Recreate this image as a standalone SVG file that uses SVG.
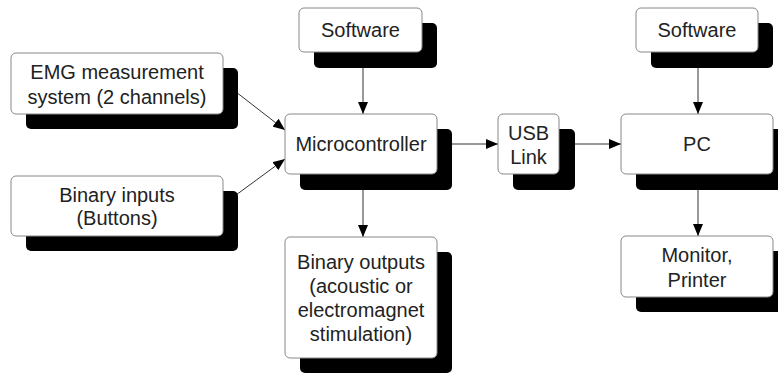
<svg xmlns="http://www.w3.org/2000/svg" width="778" height="374" viewBox="0 0 778 374">
<defs>
<style>
.box{fill:#fff;stroke:#888;stroke-width:1}
.sh{fill:#000}
.t{font-family:"Liberation Sans",Arial,sans-serif;font-size:20px;fill:#222;text-anchor:middle}
.c{stroke:#333;stroke-width:1;fill:none;marker-end:url(#ah)}
</style>
<marker id="ah" markerUnits="userSpaceOnUse" markerWidth="12" markerHeight="10" refX="12" refY="5" orient="auto">
<path d="M0,0 L12,5 L0,10 z" fill="#000"/>
</marker>
</defs>
<rect width="778" height="374" fill="#fff"/>
<g id="connectors">
<line class="c" x1="363" y1="68" x2="363" y2="114"/>
<line class="c" x1="363" y1="190" x2="363" y2="237"/>
<line class="c" x1="452" y1="144" x2="498" y2="144"/>
<line class="c" x1="575" y1="144" x2="621" y2="144"/>
<line class="c" x1="698" y1="68" x2="698" y2="114"/>
<line class="c" x1="698" y1="190" x2="698" y2="236"/>
<line class="c" x1="236" y1="92" x2="285" y2="130"/>
<line class="c" x1="236" y1="195" x2="285" y2="159"/>
</g>
<g id="emg">
<rect class="sh" x="26" y="68" width="212" height="61" rx="5"/>
<rect class="box" x="11" y="53" width="212" height="61" rx="5"/>
<text class="t" x="117" y="79">EMG measurement</text>
<text class="t" x="117" y="104">system (2 channels)</text>
</g>
<g id="binary-inputs">
<rect class="sh" x="26" y="191" width="212" height="60" rx="5"/>
<rect class="box" x="11" y="176" width="212" height="60" rx="5"/>
<text class="t" x="117" y="202">Binary inputs</text>
<text class="t" x="117" y="225">(Buttons)</text>
</g>
<g id="software-mc">
<rect class="sh" x="314" y="23" width="123" height="45" rx="5"/>
<rect class="box" x="299" y="8" width="123" height="44" rx="5"/>
<text class="t" x="360.5" y="37">Software</text>
</g>
<g id="microcontroller">
<rect class="sh" x="300" y="129" width="152" height="61" rx="5"/>
<rect class="box" x="285" y="114" width="152" height="60" rx="5"/>
<text class="t" x="361" y="151">Microcontroller</text>
</g>
<g id="binary-outputs">
<rect class="sh" x="300" y="252" width="152" height="121" rx="5"/>
<rect class="box" x="285" y="237" width="152" height="121" rx="5"/>
<text class="t" x="361" y="269">Binary outputs</text>
<text class="t" x="361" y="293">(acoustic or</text>
<text class="t" x="361" y="317">electromagnet</text>
<text class="t" x="361" y="341">stimulation)</text>
</g>
<g id="usb">
<rect class="sh" x="513" y="129" width="62" height="61" rx="5"/>
<rect class="box" x="498" y="114" width="61" height="60" rx="5"/>
<text class="t" x="528.5" y="140">USB</text>
<text class="t" x="528.5" y="164">Link</text>
</g>
<g id="software-pc">
<rect class="sh" x="651" y="23" width="122" height="45" rx="5"/>
<rect class="box" x="636" y="8" width="122" height="44" rx="5"/>
<text class="t" x="697" y="37">Software</text>
</g>
<g id="pc">
<rect class="sh" x="636" y="129" width="152" height="61" rx="5"/>
<rect class="box" x="621" y="114" width="152" height="60" rx="5"/>
<text class="t" x="697" y="151">PC</text>
</g>
<g id="monitor">
<rect class="sh" x="636" y="251" width="152" height="61" rx="5"/>
<rect class="box" x="621" y="236" width="152" height="61" rx="5"/>
<text class="t" x="697" y="262">Monitor,</text>
<text class="t" x="697" y="287">Printer</text>
</g>
</svg>
